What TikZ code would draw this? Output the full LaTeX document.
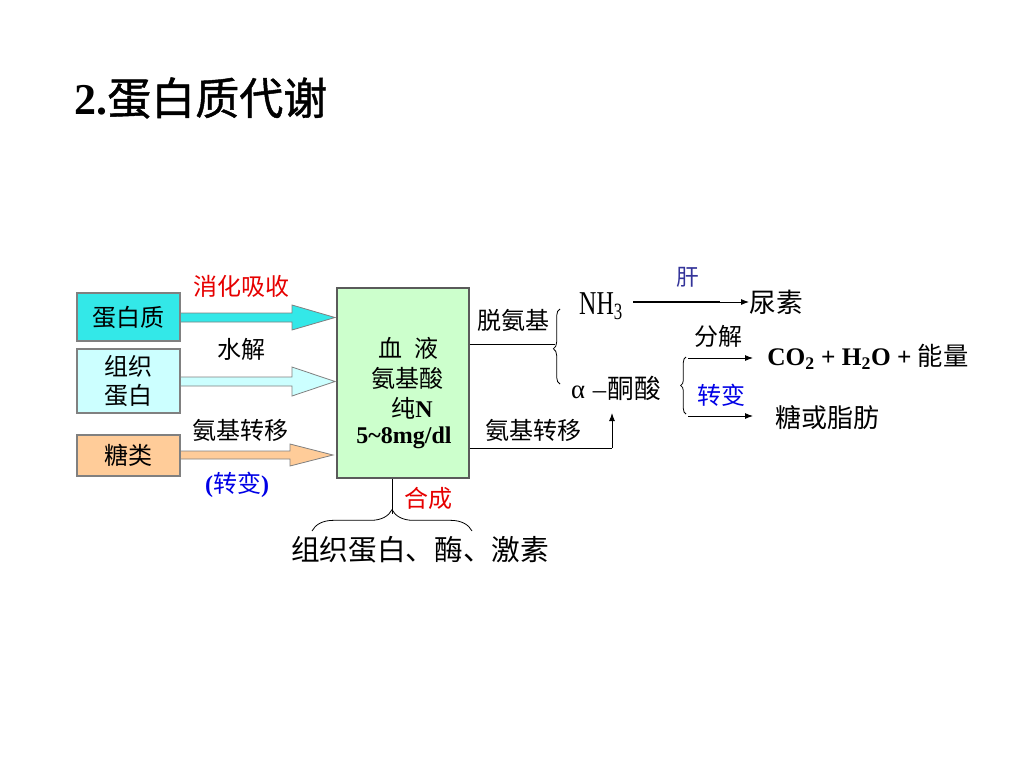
\documentclass[tikz,border=0pt]{standalone}
\usepackage{fontspec}
\setmainfont{Liberation Serif}
\newfontfamily\cjk{Noto Sans CJK SC}
\newfontfamily\cjktitle[FakeBold=1.0]{Noto Sans CJK SC}
\usetikzlibrary{decorations.pathreplacing,arrows.meta}
\definecolor{cyanbox}{RGB}{51,232,232}
\definecolor{lightcyan}{RGB}{204,255,255}
\definecolor{tanbox}{RGB}{255,204,153}
\definecolor{greenbox}{RGB}{204,255,204}
\definecolor{edgegray}{RGB}{128,128,128}
\definecolor{redtxt}{RGB}{230,0,0}
\definecolor{bluetxt}{RGB}{0,0,230}
\definecolor{livertxt}{RGB}{51,51,153}
\newcommand{\fs}[1]{\fontsize{#1}{#1}\selectfont}
\begin{document}
\begin{tikzpicture}[x=0.75pt,y=-0.75pt,
  srcbox/.style={draw=edgegray,line width=0.8pt,minimum width=103*0.75pt,inner sep=0pt,align=center,font=\cjk\fontsize{18}{22}\selectfont},
  blockarrow/.style={draw=edgegray,line width=0.6pt},
  lbl/.style={inner sep=0pt,font=\cjk\fs{18}},
  conn/.style={line width=0.7pt},
  tip/.style={-{Latex[length=6pt,width=4.5pt]}},
  brc/.style={line width=0.6pt,decorate}]
\useasboundingbox (0,0) rectangle (1024,768);

% title
\node[anchor=west,inner sep=0pt] (title) at (74,98) {\fs{33}{\bfseries 2.}\cjktitle 蛋白质代谢};

% source boxes
\node[srcbox,fill=cyanbox,minimum height=48*0.75pt] (prot) at (128.5,317) {蛋白质};
\node[srcbox,fill=lightcyan,minimum height=64*0.75pt] (tiss) at (128.5,381) {组织\\蛋白};
\node[srcbox,fill=tanbox,minimum height=41*0.75pt] (sugar) at (128.5,455.5) {糖类};

% central blood box
\node[draw=edgegray!70!black,line width=0.8pt,fill=greenbox,minimum width=132*0.75pt,minimum height=190*0.75pt,inner sep=0pt] (blood) at (403,383) {};
\node[lbl] (bl1) at (408,348) {血\hspace{0.5em}液};
\node[lbl] (bl2) at (407,378) {氨基酸};
\node[lbl] (bl3) at (412,408) {纯{\rmfamily\bfseries N}};
\node[inner sep=0pt,font=\fs{18}\bfseries] (bl4) at (404,438) {5\char`~8mg/dl};

% block arrows
\draw[blockarrow,fill=cyanbox] (prot.east |- 0,313) -- (292,313) -- (292,305) -- (335,317.5) -- (292,330) -- (292,322) -- (prot.east |- 0,322) -- cycle;
\draw[blockarrow,fill=lightcyan] (tiss.east |- 0,377) -- (292,377) -- (292,367) -- (335,381.5) -- (292,396) -- (292,386) -- (tiss.east |- 0,386) -- cycle;
\draw[blockarrow,fill=tanbox] (sugar.east |- 0,451) -- (290,451) -- (290,444) -- (333,455) -- (290,466) -- (290,459) -- (sugar.east |- 0,459) -- cycle;

% arrow labels
\node[lbl,text=redtxt] (digest) at (241,286) {消化吸收};
\node[lbl] (hydro) at (241,349) {水解};
\node[lbl] (trans1) at (240,430) {氨基转移};
\node[lbl,text=bluetxt] (conv1) at (237,485) {{\rmfamily\bfseries (}转变{\rmfamily\bfseries )}};

% right side
\coordinate (b1tip) at (555,344);
\draw[conn] (blood.east |- b1tip) -- (b1tip);
\draw[brc,decoration={brace,amplitude=5pt,aspect=0.47}] (560,384) -- (560,309);
\node[lbl] (deam) at (513,320) {脱氨基};
\node[inner sep=0pt,font=\fs{25}] (nh3) at (601,306) {\scalebox{0.72}[1]{NH\textsubscript{3}}};
\node[lbl,font=\cjk\fs{20}] (urea) at (776,302) {尿素};
\coordinate (nhA) at (633,302);
\coordinate (nhB) at (720,302);
\draw[line width=2.2pt] (nhA) -- (nhB);
\draw[conn,tip] (nhB) -- (urea.west);
\node[lbl,text=livertxt,font=\cjk\fs{17}] (liver) at (688,277) {肝};

\node[inner sep=0pt,font=\fs{20}] (keto) at (616,388) {α\hspace{0.3em}–\hspace{0.05em}{\cjk 酮酸}};
\coordinate (upfoot) at (612,448);
\coordinate (uptip) at (612,413);
\draw[conn] (blood.east |- upfoot) -- (upfoot);
\draw[conn,tip] (upfoot) -- (uptip);
\node[lbl] (trans2) at (533,430) {氨基转移};

\draw[brc,decoration={brace,amplitude=4pt,aspect=0.5}] (686,414) -- (686,357);
\coordinate (a1s) at (688,358);
\coordinate (a2s) at (688,416);
\node[anchor=west,inner sep=0pt,font=\fs{19}\bfseries] (co2) at (767,357) {CO\textsubscript{2} + H\textsubscript{2}O + {\cjk\mdseries 能量}};
\node[lbl,font=\cjk\fs{19.5}] (fat) at (827,418) {糖或脂肪};
\draw[conn,tip] (a1s) -- (753,358);
\draw[conn,tip] (a2s) -- (753,416);
\node[lbl] (decomp) at (718,336) {分解};
\node[lbl,text=bluetxt] (conv2) at (721,395) {转变};

% bottom
\coordinate (b3tip) at (392,514);
\draw[conn] (blood.south -| b3tip) -- (b3tip);
\draw[brc,decoration={brace,amplitude=16pt,aspect=0.5}] (312,531) -- (472,531);
\node[lbl] (synth) at (428,498) {\textcolor{redtxt}{合成}};
\node[lbl,font=\cjk\fs{21.5}] (prod) at (420,550) {组织蛋白、酶、激素};
\end{tikzpicture}
\end{document}
